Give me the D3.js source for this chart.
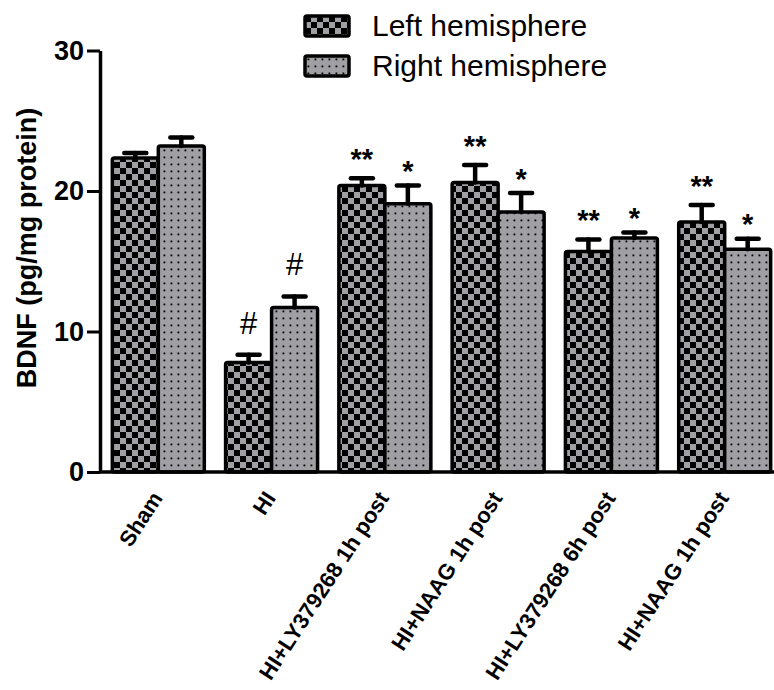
<!DOCTYPE html>
<html>
<head>
<meta charset="utf-8">
<script src="https://cdn.jsdelivr.net/npm/d3@7"></script>
<style>
  html, body { margin: 0; padding: 0; background: #fff; }
  text { font-family: "Liberation Sans", Arial, sans-serif; }
</style>
</head>
<body>
<svg id="chart" width="774" height="690"></svg>
<script>
// data
const categories  = ["Sham", "HI", "HI+LY379268 1h post", "HI+NAAG 1h post", "HI+LY379268 6h post", "HI+NAAG 1h post"];
const series      = ["Left hemisphere", "Right hemisphere"];
const leftMeans   = [22.35, 7.8, 20.4, 20.6, 15.7, 17.8];
const leftErrors  = [0.35, 0.55, 0.5, 1.25, 0.85, 1.2];
const rightMeans  = [23.2, 11.7, 19.1, 18.5, 16.65, 15.85];
const rightErrors = [0.6, 0.8, 1.3, 1.35, 0.4, 0.75];
const leftMarks   = ["", "#", "**", "**", "**", "**"];
const rightMarks  = ["", "#", "*", "*", "*", "*"];
const yTicks      = [0, 10, 20, 30];

const gray = "#a0a0a4";
const svg  = d3.select("#chart");

// patterns
const defs = svg.append("defs");
const checker = defs.append("pattern")
  .attr("id", "checker").attr("patternUnits", "userSpaceOnUse")
  .attr("width", 12).attr("height", 12);
checker.append("rect").attr("width", 12).attr("height", 12).attr("fill", gray);
checker.append("rect").attr("width", 6).attr("height", 6).attr("fill", "#000");
checker.append("rect").attr("x", 6).attr("y", 6).attr("width", 6).attr("height", 6).attr("fill", "#000");

const dots = defs.append("pattern")
  .attr("id", "dots").attr("patternUnits", "userSpaceOnUse")
  .attr("width", 7).attr("height", 7);
dots.append("rect").attr("width", 7).attr("height", 7).attr("fill", gray);
dots.append("rect").attr("x", 2.5).attr("y", 2.5).attr("width", 1.8).attr("height", 1.8).attr("fill", "#000");

const fills = ["url(#checker)", "url(#dots)"];

// scales
const x0 = d3.scaleBand().domain(d3.range(categories.length))
  .range([101, 782]).paddingInner(0.188).paddingOuter(0.1);
const x1 = d3.scaleBand().domain([0, 1]).range([0, x0.bandwidth()]);
const y  = d3.scaleLinear().domain([0, 30]).range([472, 50.5]);

const rows = categories.map((c, i) => [
  {i, s: 0, mean: leftMeans[i],  err: leftErrors[i],  mark: leftMarks[i]},
  {i, s: 1, mean: rightMeans[i], err: rightErrors[i], mark: rightMarks[i]}
]).flat();

// y axis
const yAxis = svg.append("g")
  .attr("transform", "translate(100,0)")
  .call(d3.axisLeft(y).tickValues(yTicks).tickSize(13).tickSizeOuter(0).tickPadding(3));
yAxis.select(".domain").attr("stroke", "#000").attr("stroke-width", 3.5);
yAxis.selectAll(".tick line").attr("stroke", "#000").attr("stroke-width", 3);
yAxis.selectAll(".tick text")
  .attr("font-family", "Liberation Sans, Arial, sans-serif")
  .attr("font-size", 27).attr("font-weight", "bold").attr("fill", "#000");

svg.append("text")
  .attr("transform", "translate(36,248) rotate(-90)")
  .attr("text-anchor", "middle")
  .attr("font-size", 27).attr("font-weight", "bold")
  .text("BDNF (pg/mg protein)");

// bars
const bars = svg.append("g");
bars.selectAll("rect").data(rows).enter().append("rect")
  .attr("x", d => x0(d.i) + x1(d.s))
  .attr("y", d => y(d.mean))
  .attr("width", x1.bandwidth())
  .attr("height", d => y(0) - y(d.mean))
  .attr("rx", 2)
  .attr("fill", d => fills[d.s])
  .attr("stroke", "#000").attr("stroke-width", 3.5);

// error bars (upper only)
const cx = d => x0(d.i) + x1(d.s) + x1.bandwidth() / 2;
const errs = svg.append("g").attr("stroke", "#000").attr("stroke-linecap", "round");
errs.selectAll(".stem").data(rows).enter().append("line")
  .attr("x1", cx).attr("x2", cx)
  .attr("y1", d => y(d.mean)).attr("y2", d => y(d.mean + d.err))
  .attr("stroke-width", 4.5);
errs.selectAll(".cap").data(rows).enter().append("line")
  .attr("x1", d => cx(d) - 11).attr("x2", d => cx(d) + 11)
  .attr("y1", d => y(d.mean + d.err)).attr("y2", d => y(d.mean + d.err))
  .attr("stroke-width", 4.5);

// x baseline
svg.append("line")
  .attr("x1", 100).attr("x2", 774)
  .attr("y1", y(0)).attr("y2", y(0))
  .attr("stroke", "#000").attr("stroke-width", 3.5);

// significance marks
const markGap  = {"#": 19, "**": 7.5, "*": 2.5};
const markSize = {"#": 31, "**": 29, "*": 29};
svg.append("g").selectAll("text").data(rows.filter(d => d.mark)).enter().append("text")
  .attr("x", cx)
  .attr("y", d => y(d.mean + d.err) - 2 - markGap[d.mark])
  .attr("text-anchor", "middle")
  .attr("font-size", d => markSize[d.mark])
  .attr("font-weight", d => d.mark === "#" ? "normal" : "bold")
  .text(d => d.mark);

// x labels
svg.append("g").selectAll("text").data(categories).enter().append("text")
  .attr("transform", (d, i) => `translate(${x0(i) + x0.bandwidth() / 2 + 5},498) rotate(-57)`)
  .attr("text-anchor", "end")
  .attr("font-size", 22).attr("font-weight", "bold")
  .text(d => d);

// legend
const legend = svg.append("g").selectAll("g").data(series).enter().append("g")
  .attr("transform", (d, i) => `translate(305,${16 + i * 40})`);
legend.append("rect")
  .attr("width", 44).attr("height", 20).attr("rx", 2)
  .attr("fill", (d, i) => fills[i])
  .attr("stroke", "#000").attr("stroke-width", 3.5);
legend.append("text")
  .attr("x", 67).attr("y", 20)
  .attr("font-size", 30)
  .text(d => d);
</script>
</body>
</html>
